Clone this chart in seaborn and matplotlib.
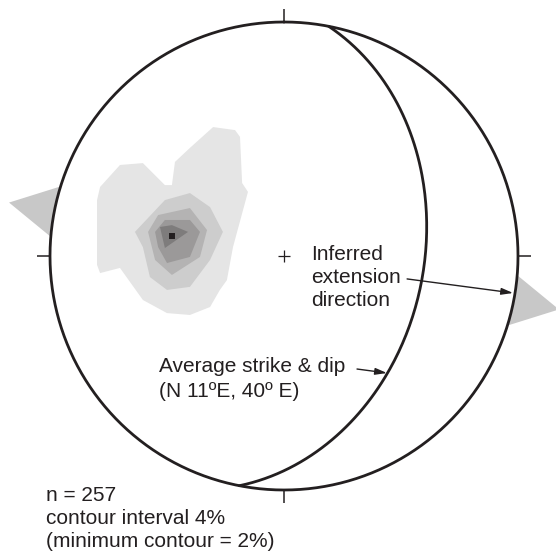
import numpy as np
import pandas as pd
import matplotlib
matplotlib.use("Agg")
import matplotlib.pyplot as plt
import seaborn as sns

# Mean plane (right-hand rule strike / dip) and inferred extension trend, degrees
strike_deg = 11
dip_deg = 40
extension_trend = 101

# Summary statistics printed under the net
n_poles = 257
contour_interval = 4
min_contour = 2

# Pole-density contours digitised on the equal-area net (primitive radius = 1),
# lowest level first: 2 %, 6 %, 10 %, 14 %, 18 %
contour_levels = [2, 6, 10, 14, 18]
c02_x = [-0.786, -0.701, -0.603, -0.509, -0.479, -0.466, -0.402, -0.303, -0.209, -0.188,
         -0.179, -0.154, -0.218, -0.244, -0.274, -0.316, -0.402, -0.500, -0.603, -0.701,
         -0.786, -0.799, -0.799]
c02_y = [0.295, 0.389, 0.397, 0.303, 0.303, 0.402, 0.462, 0.551, 0.538, 0.509,
         0.312, 0.274, 0.038, -0.103, -0.145, -0.218, -0.252, -0.244, -0.188, -0.051,
         -0.073, -0.038, 0.239]
c06_x = [-0.637, -0.509, -0.402, -0.316, -0.261, -0.316, -0.402, -0.500, -0.573, -0.603]
c06_y = [0.103, 0.239, 0.269, 0.209, 0.103, -0.017, -0.132, -0.145, -0.090, 0.038]
c10_x = [-0.581, -0.538, -0.402, -0.329, -0.359, -0.479, -0.551]
c10_y = [0.103, 0.175, 0.205, 0.111, -0.004, -0.081, -0.017]
c14_x = [-0.551, -0.509, -0.402, -0.359, -0.402, -0.500, -0.538]
c14_y = [0.103, 0.154, 0.154, 0.103, -0.004, -0.030, 0.038]
c18_x = [-0.530, -0.479, -0.410, -0.509]
c18_y = [0.124, 0.132, 0.103, 0.034]
# Density maximum
max_x = -0.479
max_y = 0.085

contour_x = [c02_x, c06_x, c10_x, c14_x, c18_x]
contour_y = [c02_y, c06_y, c10_y, c14_y, c18_y]
contour_colors = ["#e5e5e5", "#cdcdcd", "#b4b3b3", "#9b9999", "#7e7c7c"]
ink = "#231f20"


def equal_area(trend, plunge):
    """Lower-hemisphere Lambert (Schmidt) projection of a line."""
    r = np.sqrt(2.0) * np.sin(np.radians(90.0 - np.asarray(plunge)) / 2.0)
    t = np.radians(trend)
    return r * np.sin(t), r * np.cos(t)


def great_circle(strike, dip, n=181):
    s = np.radians(strike)
    dd = s + np.pi / 2
    d = np.radians(dip)
    strike_vec = np.array([np.sin(s), np.cos(s), 0.0])
    dip_vec = np.array([np.cos(d) * np.sin(dd), np.cos(d) * np.cos(dd), -np.sin(d)])
    t = np.linspace(0, np.pi, n)
    v = np.outer(np.cos(t), strike_vec) + np.outer(np.sin(t), dip_vec)
    trend = np.degrees(np.arctan2(v[:, 0], v[:, 1]))
    plunge = np.degrees(np.arcsin(np.clip(-v[:, 2], -1, 1)))
    return equal_area(trend, plunge)


sns.set_style("white")
plt.rcParams["font.family"] = ["Liberation Sans", "DejaVu Sans"]

fig = plt.figure(figsize=(5.56, 5.52), dpi=100)
ax = fig.add_axes([0, 0, 1, 1])
ax.set_xlim(-284 / 234, 272 / 234)
ax.set_ylim(-296 / 234, 256 / 234)
ax.axis("off")

# Extension arrows (grey wedges) pointing along the extension trend
half = 6.3
tip_r = 1.197
for az in (extension_trend, extension_trend + 180):
    xs = [np.sin(np.radians(az - half)), tip_r * np.sin(np.radians(az)), np.sin(np.radians(az + half))]
    ys = [np.cos(np.radians(az - half)), tip_r * np.cos(np.radians(az)), np.cos(np.radians(az + half))]
    ax.fill(xs, ys, color="#c8c8c8", lw=0, zorder=0)

# Primitive circle
theta = np.linspace(0, 2 * np.pi, 721)
prim = pd.DataFrame({"x": np.sin(theta), "y": np.cos(theta)})
ax.fill(prim["x"], prim["y"], color="white", lw=0, zorder=1)

# Filled density contours
for xs, ys, col in zip(contour_x, contour_y, contour_colors):
    ax.fill(xs, ys, color=col, lw=0, zorder=2)
ax.plot([max_x], [max_y], marker="s", ms=4.5, color=ink, mew=0, zorder=2.5)

sns.lineplot(data=prim, x="x", y="y", sort=False, estimator=None, ax=ax,
             color=ink, lw=2.0, zorder=3)

# Mean great circle
gx, gy = great_circle(strike_deg, dip_deg)
gc = pd.DataFrame({"x": gx, "y": gy})
sns.lineplot(data=gc, x="x", y="y", sort=False, estimator=None, ax=ax,
             color=ink, lw=2.0, zorder=3)
ax.set_xlabel("")
ax.set_ylabel("")

# Cardinal ticks and centre mark
for az in (0, 90, 180, 270):
    a = np.radians(az)
    ax.plot([np.sin(a), 1.057 * np.sin(a)], [np.cos(a), 1.057 * np.cos(a)],
            color=ink, lw=1.1, zorder=3, solid_capstyle="butt")
ax.plot([0], [0], marker="+", ms=8, mew=0.9, color=ink, zorder=3)

fs = 15
# Extension label and arrow
for txt, yb in zip(["Inferred", "extension", "direction"], [-0.017, -0.115, -0.214]):
    ax.text(0.115, yb, txt, fontsize=fs, ha="left", va="baseline", color=ink, zorder=4)
ax.annotate("", xy=(0.979, -0.158), xytext=(0.526, -0.098),
            arrowprops=dict(arrowstyle="-|>,head_length=0.7,head_width=0.2",
                            color=ink, lw=1.0, shrinkA=0, shrinkB=0), zorder=4)

# Plane label and arrow
ax.text(-0.534, -0.496, "Average strike & dip", fontsize=fs, ha="left", va="baseline", color=ink)
ax.text(-0.534, -0.603, f"(N {strike_deg}ºE, {dip_deg}º E)", fontsize=fs, ha="left",
        va="baseline", color=ink)
ax.annotate("", xy=(0.440, -0.500), xytext=(0.312, -0.483),
            arrowprops=dict(arrowstyle="-|>,head_length=0.7,head_width=0.2",
                            color=ink, lw=1.0, shrinkA=0, shrinkB=0), zorder=4)

# Summary text
summary = [f"n = {n_poles}", f"contour interval {contour_interval}%",
           f"(minimum contour = {min_contour}%)"]
for txt, yb in zip(summary, [-1.047, -1.145, -1.244]):
    ax.text(-1.017, yb, txt, fontsize=fs, ha="left", va="baseline", color=ink)

fig.savefig("out.png", dpi=100)
